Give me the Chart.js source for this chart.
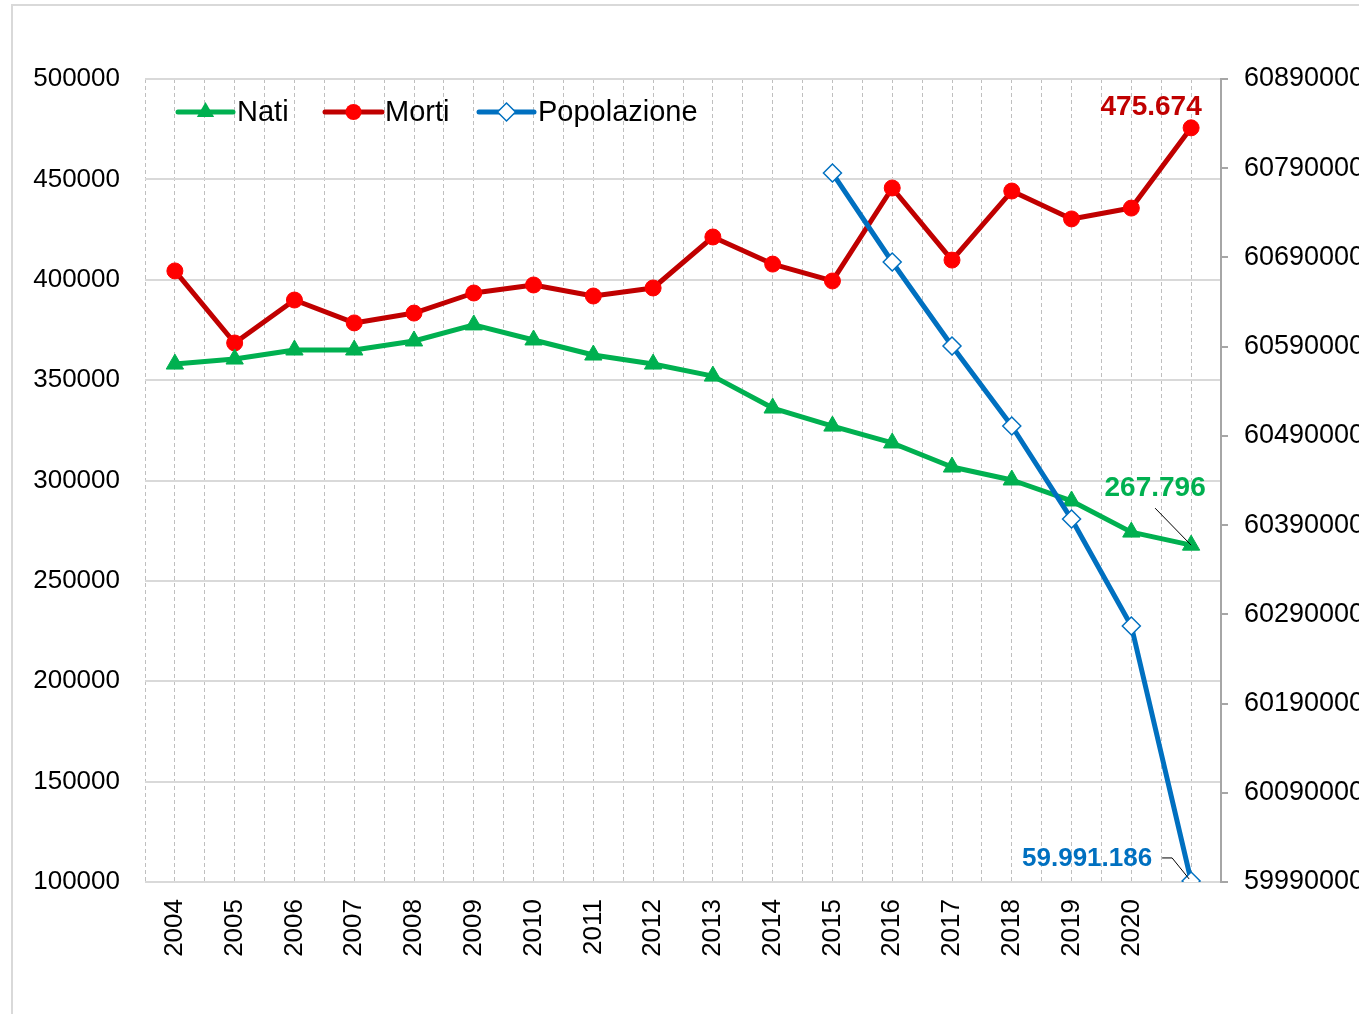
<!DOCTYPE html>
<html><head><meta charset="utf-8">
<script src="https://cdn.jsdelivr.net/npm/chart.js@4.4.1/dist/chart.umd.min.js"></script>
<style>
html,body{margin:0;padding:0;background:#fff;overflow:hidden;width:1359px;height:1014px;}
#frame{position:absolute;left:11px;top:4px;width:1400px;height:1100px;border:2px solid #d9d9d9;}
#wrap{position:absolute;left:0;top:0;width:1359px;height:1014px;}
</style></head><body>
<div id="frame"></div>
<div id="wrap"><canvas id="c" width="1359" height="1014"></canvas></div>
<script>
// ---- data ----
const categories = ['2004','2005','2006','2007','2008','2009','2010','2011','2012','2013','2014','2015','2016','2017','2018','2019','2020',''];
const nati = [358000,360500,365000,365000,369500,377500,370000,362500,358000,352000,336100,327100,318700,306700,300250,289800,274300,267796];
const morti = [404400,368500,389900,378500,383400,393400,397400,391900,395900,421300,407800,399400,445700,409800,444200,430300,435700,475674];
const popolazione = [null,null,null,null,null,null,null,null,null,null,null,60784600,60684900,60590700,60501100,60396800,60276900,59991186];
const leftAxis = {min:100000, max:500000, step:50000};
const rightAxis = {min:59990000, max:60890000, step:100000};

const FONT = "'Liberation Sans', Arial, sans-serif";
const C_NATI = '#00B050', C_MORTI = '#C00000', C_MORTI_PT = '#FF0000', C_POP = '#0070C0';

function toXY(arr){ const out=[]; arr.forEach((v,i)=>{ if(v!==null) out.push({x:i,y:v}); }); return out; }
function fmtIt(v){ return String(v).replace(/\B(?=(\d{3})+(?!\d))/g,'.'); }

const overlay = {
  id:'overlay',
  afterDatasetsDraw(chart){
    const ctx = chart.ctx;
    const xs = chart.scales.x, yl = chart.scales.y, yr = chart.scales.y1;
    const last = categories.length-1;
    ctx.save();
    // legend
    ctx.textBaseline='middle'; ctx.textAlign='left';
    ctx.font = '29px '+FONT;
    const ly = 112;
    const items = [
      {x1:178,x2:233,tx:237,color:C_NATI,label:'Nati',m:'tri'},
      {x1:325,x2:382,tx:385,color:C_MORTI,label:'Morti',m:'circ'},
      {x1:479,x2:534,tx:538,color:C_POP,label:'Popolazione',m:'dia'}
    ];
    items.forEach(it=>{
      ctx.strokeStyle=it.color; ctx.lineWidth=5; ctx.lineCap='round';
      ctx.beginPath(); ctx.moveTo(it.x1,ly); ctx.lineTo(it.x2,ly); ctx.stroke();
      const cx=(it.x1+it.x2)/2;
      ctx.beginPath();
      if(it.m==='tri'){
        const r=10; ctx.fillStyle=C_NATI;
        ctx.moveTo(cx, ly-r); ctx.lineTo(cx+r*0.866, ly+r/2); ctx.lineTo(cx-r*0.866, ly+r/2); ctx.closePath(); ctx.fill();
      } else if(it.m==='circ'){
        ctx.fillStyle=C_MORTI_PT; ctx.arc(cx,ly,8,0,Math.PI*2); ctx.fill();
      } else {
        const r=9; ctx.fillStyle='#fff'; ctx.strokeStyle=C_POP; ctx.lineWidth=1.5;
        ctx.moveTo(cx,ly-r); ctx.lineTo(cx+r,ly); ctx.lineTo(cx,ly+r); ctx.lineTo(cx-r,ly); ctx.closePath(); ctx.fill(); ctx.stroke();
      }
      ctx.fillStyle='#000'; ctx.fillText(it.label, it.tx, ly+1);
    });
    // data labels
    const px = xs.getPixelForValue(last);
    const pm = yl.getPixelForValue(morti[last]);
    const pn = yl.getPixelForValue(nati[last]);
    const pp = yr.getPixelForValue(popolazione[last]);
    ctx.textAlign='center';
    ctx.font='bold 28px '+FONT;
    ctx.fillStyle=C_MORTI; ctx.fillText(fmtIt(morti[last]), px-40, pm-21);
    ctx.fillStyle=C_NATI; ctx.fillText(fmtIt(nati[last]), px-36, pn-57);
    ctx.font='bold 26px '+FONT;
    ctx.fillStyle=C_POP; ctx.fillText(fmtIt(popolazione[last]), px-104, pp-22);
    // leader lines
    ctx.strokeStyle='#000'; ctx.lineWidth=1; ctx.lineCap='butt';
    ctx.beginPath(); ctx.moveTo(px-36, pn-37); ctx.lineTo(px, pn); ctx.stroke();
    ctx.beginPath(); ctx.moveTo(px-29, pp-23); ctx.lineTo(px-19, pp-23); ctx.lineTo(px-2, pp-2); ctx.stroke();
    ctx.restore();
  }
};

new Chart(document.getElementById('c'), {
  type:'line',
  data:{
    datasets:[
      {label:'Nati', data:toXY(nati), yAxisID:'y', borderColor:C_NATI, backgroundColor:C_NATI, borderWidth:5,
       pointStyle:'triangle', pointRadius:10, pointBackgroundColor:C_NATI, pointBorderColor:C_NATI, pointBorderWidth:1, order:1},
      {label:'Morti', data:toXY(morti), yAxisID:'y', borderColor:C_MORTI, backgroundColor:C_MORTI_PT, borderWidth:5,
       pointStyle:'circle', pointRadius:8, pointBackgroundColor:C_MORTI_PT, pointBorderColor:C_MORTI_PT, pointBorderWidth:1, order:2},
      {label:'Popolazione', data:toXY(popolazione), yAxisID:'y1', borderColor:C_POP, backgroundColor:'#fff', borderWidth:5,
       pointStyle:'rectRot', pointRadius:9, pointBackgroundColor:'#fff', pointBorderColor:C_POP, pointBorderWidth:1.5, order:0}
    ]
  },
  options:{
    responsive:false, animation:false,
    layout:{padding:{top:79,left:0,right:0,bottom:0}},
    plugins:{legend:{display:false}, tooltip:{enabled:false}},
    elements:{line:{tension:0, borderCapStyle:'round', borderJoinStyle:'round'}},
    scales:{
      x:{type:'linear', min:-0.5, max:categories.length-0.5,
        afterBuildTicks(s){ const t=[]; for(let i=0;i<=categories.length*2;i++) t.push({value:-0.5+i*0.5}); s.ticks=t; },
        afterFit(s){ s.height = 132; },
        grid:{color:'#bfbfbf', lineWidth:1, drawTicks:false},
        border:{display:false, dash:[4,3]},
        ticks:{autoSkip:false, minRotation:90, maxRotation:90, padding:17, color:'#000', font:{family:FONT,size:26},
          callback(v){ return (Number.isInteger(v) && v>=0 && v<categories.length) ? categories[v] : ''; }}
      },
      y:{type:'linear', position:'left', min:leftAxis.min, max:leftAxis.max,
        afterFit(s){ s.width = 145; },
        grid:{color:'#d9d9d9', lineWidth:2, drawTicks:false},
        border:{display:false},
        ticks:{stepSize:leftAxis.step, padding:25, color:'#000', font:{family:FONT,size:26}, callback(v){ return String(v); }}
      },
      y1:{type:'linear', position:'right', min:rightAxis.min, max:rightAxis.max,
        afterFit(s){ s.width = 138; },
        grid:{drawOnChartArea:false, drawTicks:true, tickLength:7, color:'#a6a6a6', lineWidth:2},
        border:{display:true, color:'#a6a6a6', width:2},
        ticks:{stepSize:rightAxis.step, padding:16, color:'#000', font:{family:FONT,size:27}, callback(v){ return String(v); }}
      }
    }
  },
  plugins:[overlay]
});
</script>
</body></html>
